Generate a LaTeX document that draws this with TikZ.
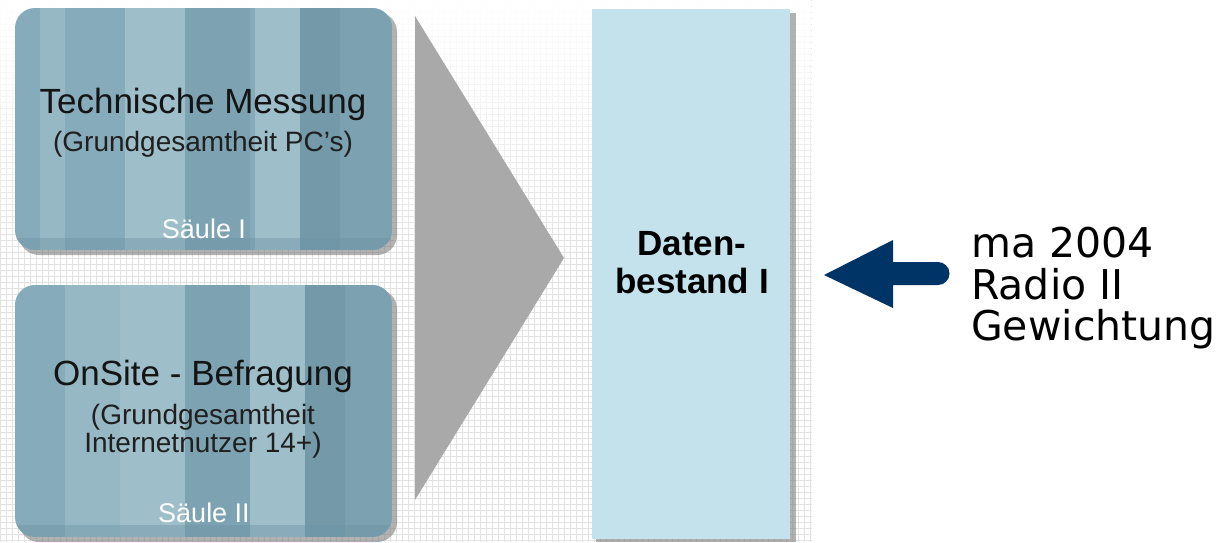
\documentclass[tikz,border=0pt]{standalone}
\usepackage{fontspec}
\setmainfont{Liberation Sans}
\newfontfamily\dvfont{DejaVu Sans}
\usetikzlibrary{fadings}
\definecolor{boxblue}{HTML}{86ABBA}
\definecolor{stripeL}{HTML}{A6C4D0}
\definecolor{stripeD}{HTML}{6C93A3}
\definecolor{datablue}{HTML}{C4E2EC}
\definecolor{navy}{HTML}{003366}
\definecolor{tri}{HTML}{A9A9A9}
\definecolor{gridc}{HTML}{E2E2E2}
\tikzset{
  pillar/.style={fill=boxblue, rounded corners=20pt},
  shadowbox/.style={fill=black!55, opacity=0.55, rounded corners=20pt},
  titletext/.style={anchor=base, font=\fontsize{35}{41}\selectfont, text=black!92, inner sep=0pt},
  subtext/.style={anchor=base, font=\fontsize{28}{32}\selectfont, text=black!88, inner sep=0pt},
  saeule/.style={anchor=base, font=\fontsize{27}{30}\selectfont, text=white, inner sep=0pt},
  datatext/.style={anchor=base, font=\fontsize{35}{38}\bfseries\selectfont, text=black, inner sep=0pt},
  sidetext/.style={anchor=base west, font=\dvfont\fontsize{41}{41}\selectfont, text=black, inner sep=0pt},
}
\begin{document}
\begin{tikzpicture}[x=1pt,y=-1pt]
\useasboundingbox (0,0) rectangle (1223,542);
\fill[white] (0,0) rectangle (1223,542);
% background grid
\foreach \gx in {0,6,...,810} \draw[gridc, line width=0.5pt] (\gx,0) -- (\gx,542);
\foreach \gy in {0,6,...,542} \draw[gridc, line width=0.5pt] (0,\gy) -- (812,\gy);
\fill[white, path fading=south] (0,0) rectangle (812,260);

% pillar 1
\fill[shadowbox] (19,12) rectangle (397,255);
\begin{scope}
\clip[rounded corners=20pt] (15,8) rectangle (392,250);
\fill[boxblue] (15,8) rectangle (392,250);
\fill[stripeL!50!boxblue] (40,8) rectangle (65,250);
\fill[stripeL!75!boxblue] (125,8) rectangle (185,250);
\fill[stripeD!35!boxblue] (185,8) rectangle (250,250);
\fill[stripeL!75!boxblue] (255,8) rectangle (300,250);
\fill[stripeD!70!boxblue] (300,8) rectangle (340,250);
\fill[stripeD!40!boxblue] (340,8) rectangle (392,250);
\fill[stripeD, opacity=0.4] (15,238) rectangle (392,250);
\end{scope}
\node[titletext] (t1) at (203,113) {Technische Messung};
\node[subtext] (s1) at (203,151) {(Grundgesamtheit PC's)};
\node[saeule] (p1) at (204,238) {Säule I};

% pillar 2
\fill[shadowbox] (19,289) rectangle (397,542);
\begin{scope}
\clip[rounded corners=20pt] (15,285) rectangle (392,537);
\fill[boxblue] (15,285) rectangle (392,537);
\fill[stripeL!50!boxblue] (65,285) rectangle (120,537);
\fill[stripeL!75!boxblue] (120,285) rectangle (185,537);
\fill[stripeD!35!boxblue] (185,285) rectangle (250,537);
\fill[stripeL!75!boxblue] (250,285) rectangle (305,537);
\fill[stripeD!70!boxblue] (305,285) rectangle (345,537);
\fill[stripeD!40!boxblue] (345,285) rectangle (392,537);
\fill[stripeD, opacity=0.4] (15,525) rectangle (392,537);
\end{scope}
\node[titletext] (t2) at (203,385) {OnSite - Befragung};
\node[subtext] (s2a) at (203,424) {(Grundgesamtheit};
\node[subtext] (s2b) at (203,452) {Internetnutzer 14+)};
\node[saeule] (p2) at (204,522) {Säule II};

% grey triangle
\fill[tri] (415,16) -- (564,258) -- (415,500) -- cycle;

% data column
\fill[black!55, opacity=0.55] (596,13) rectangle (796,542);
\node[fill=datablue, minimum width=198pt, minimum height=530pt, inner sep=0pt, anchor=north west] (db) at (592,9) {};
\node[datatext] (d1) at (692,255) {Daten-};
\node[datatext] (d2) at (692,293) {bestand I};

% navy arrow
\fill[navy] (824,275) -- (893,240) -- (893,262) -- (938,262)
  arc[start angle=-90, end angle=90, radius=11.5] -- (893,285) -- (893,308) -- cycle;
\coordinate (arrowtip) at (824,275);

% side text
\node[sidetext] (m1) at (971,257) {ma 2004};
\node[sidetext] (m2) at (971,299) {Radio II};
\node[sidetext] (m3) at (971,340) {Gewichtung};
\end{tikzpicture}
\end{document}
